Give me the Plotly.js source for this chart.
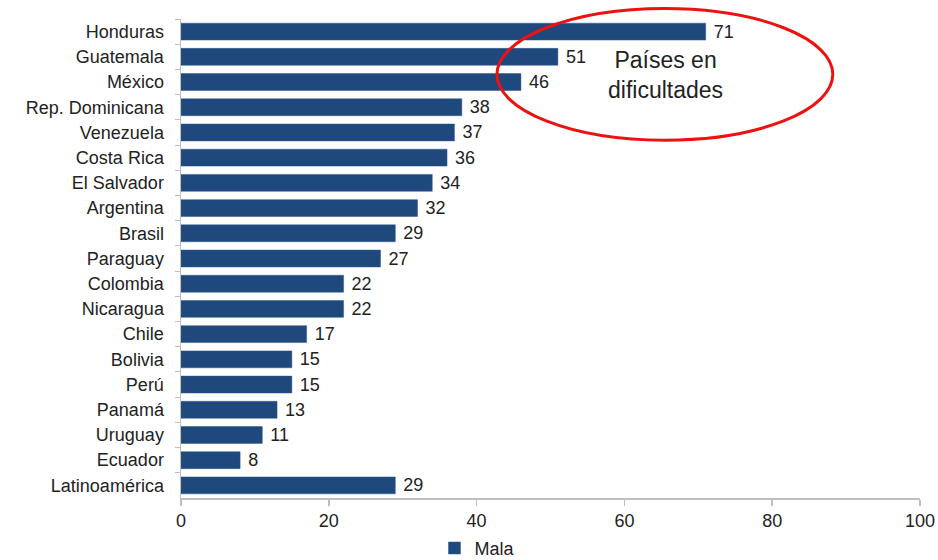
<!DOCTYPE html>
<html>
<head>
<meta charset="utf-8">
<script src="https://cdn.plot.ly/plotly-3.0.1.min.js"></script>
<style>html,body{margin:0;padding:0;background:#fff;}#chart{width:938px;height:560px;}</style>
</head>
<body>
<div id="chart"></div>
<script>
const countries = ["Honduras","Guatemala","México","Rep. Dominicana","Venezuela","Costa Rica","El Salvador","Argentina","Brasil","Paraguay","Colombia","Nicaragua","Chile","Bolivia","Perú","Panamá","Uruguay","Ecuador","Latinoamérica"];
const mala = [71,51,46,38,37,36,34,32,29,27,22,22,17,15,15,13,11,8,29];
const seriesName = "Mala";
const xTicks = [0,20,40,60,80,100];
const noteText = "Países en<br>dificultades";

const trace = {
  type: "bar",
  orientation: "h",
  y: countries,
  x: mala,
  name: seriesName,
  marker: {color: "#1F487C", line: {color: "#2f5a8f", width: 0.5}},
  text: mala.map(v => " " + v),
  textposition: "outside",
  constraintext: "none",
  textfont: {family: "Liberation Sans, Arial, sans-serif", size: 18, color: "#222"},
  cliponaxis: false,
  showlegend: true
};

const layout = {
  width: 938, height: 560,
  margin: {l: 181, r: 18, t: 19, b: 62, autoexpand: false},
  paper_bgcolor: "#fff", plot_bgcolor: "#fff",
  font: {family: "Liberation Sans, Arial, sans-serif", size: 18, color: "#222"},
  bargap: 0.33,
  xaxis: {
    range: [0, 100], tickvals: xTicks, ticktext: xTicks.map(String),
    showgrid: false, zeroline: false, showline: true, linecolor: "#bfbfbf", linewidth: 1.5,
    ticks: "outside", ticklen: 6, tickcolor: "#bfbfbf", tickwidth: 1.5,
    tickfont: {size: 18, color: "#222"}, fixedrange: true, automargin: false
  },
  yaxis: {
    autorange: "reversed", type: "category",
    showgrid: false, zeroline: false, showline: true, linecolor: "#bfbfbf", linewidth: 1.5,
    ticks: "outside", ticklen: 5, tickcolor: "#bfbfbf", tickson: "boundaries",
    tickfont: {size: 18, color: "#222"}, ticklabelstandoff: 12, automargin: false
  },
  showlegend: true,
  legend: {
    orientation: "h", x: 0.343, xanchor: "left", y: -0.105, yanchor: "middle",
    font: {size: 18, color: "#222"}, itemwidth: 30, bgcolor: "rgba(0,0,0,0)"
  },
  shapes: [{
    type: "circle", xref: "paper", yref: "paper",
    x0: 0.4276, x1: 0.882, y0: 0.747, y1: 1.022,
    line: {color: "#ee1111", width: 3}
  }],
  annotations: [{
    xref: "paper", yref: "paper", x: 0.655, y: 0.883,
    xanchor: "center", yanchor: "middle",
    text: noteText, showarrow: false,
    font: {size: 23, color: "#222"}, align: "center"
  }]
};

Plotly.newPlot("chart", [trace], layout, {displayModeBar: false, staticPlot: true});
</script>
</body>
</html>
